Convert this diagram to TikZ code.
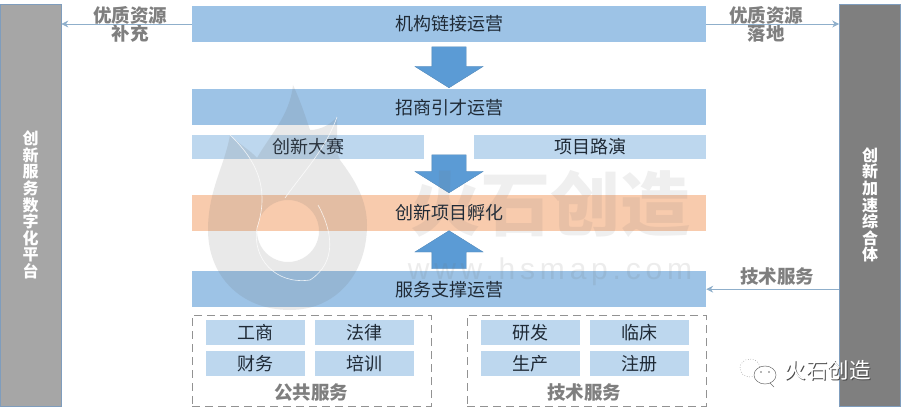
\documentclass[tikz,border=0pt]{standalone}
\usepackage{fontspec}
\usepackage{xcolor}
\usepackage{tikz}
\setmainfont{Noto Sans CJK SC}
\newfontfamily\markfont[LetterSpace=16]{Liberation Sans}
\usetikzlibrary{shapes.arrows, arrows.meta, positioning, calc}
\setlength{\lineskiplimit}{-20pt}
\setlength{\normallineskiplimit}{-20pt}
\definecolor{boxBlue}{HTML}{9DC3E6}
\definecolor{boxLight}{HTML}{BDD7EE}
\definecolor{boxOrange}{HTML}{F8CBAD}
\definecolor{arrowBlue}{HTML}{5B9BD5}
\definecolor{barLeft}{HTML}{A6A6A6}
\definecolor{barRight}{HTML}{7F7F7F}
\definecolor{barEdge}{HTML}{7F9DBD}
\definecolor{textDark}{HTML}{1F2A36}
\definecolor{textGray}{HTML}{7F7F7F}
\definecolor{lineBlue}{HTML}{8FAFCB}
\definecolor{markGray}{HTML}{6E6E6E}

\begin{document}
\begin{tikzpicture}[
    x=1pt, y=-1pt,
    node distance=10pt,
    mainbox/.style={
        fill=boxBlue, minimum width=514pt, minimum height=36pt, inner sep=0pt,
        font=\fontsize{18}{20}\selectfont, text=textDark
    },
    subbox/.style={
        fill=boxLight, minimum width=232pt, minimum height=24pt, inner sep=0pt,
        font=\fontsize{18}{20}\selectfont, text=textDark
    },
    cellbox/.style={
        fill=boxLight, minimum width=99pt, minimum height=25pt, inner sep=0pt,
        font=\fontsize{18}{20}\selectfont, text=textDark
    },
    groupbox/.style={
        draw=textGray!85, dash pattern=on 8pt off 5pt, line width=1pt,
        minimum width=239pt, minimum height=91pt, inner sep=0pt
    },
    sidebar/.style={
        draw=barEdge, line width=.6pt, minimum width=61pt, minimum height=402pt,
        inner sep=0pt, align=center, text=white,
        font=\fontsize{16}{16.6}\selectfont\bfseries
    },
    sidelabel/.style={
        align=center, inner sep=0pt, text=textGray,
        font=\fontsize{18.5}{18}\selectfont\bfseries
    },
    blockarrow/.style={
        single arrow, fill=arrowBlue, draw=arrowBlue!85!black, line width=.3pt,
        single arrow head extend=17pt, single arrow head indent=0pt,
        single arrow tip angle=116, inner xsep=0pt, inner ysep=17pt, anchor=tip
    },
    thinline/.style={draw=lineBlue, line width=.8pt, -{Stealth[length=7pt, width=7pt]}}
]
    \useasboundingbox (0,0) rectangle (901,411);

    \node[sidebar, fill=barLeft] (leftbar) at (30.5,205) {创\\新\\服\\务\\数\\字\\化\\平\\台};
    \node[sidebar, fill=barRight] (rightbar) at (870,205) {创\\新\\加\\速\\综\\合\\体};

    \node[mainbox] (jigou) at (449,24) {机构链接运营};
    \node[mainbox, below=47pt of jigou] (zhaoshang) {招商引才运营};
    \node[subbox, below right=9pt and 0pt of zhaoshang.south west] (dasai) {创新大赛};
    \node[subbox, below left=9pt and 0pt of zhaoshang.south east] (luyan) {项目路演};
    \node[mainbox, fill=boxOrange, below=69pt of zhaoshang] (fuhua) {创新项目孵化};
    \node[mainbox, below=40pt of fuhua] (fuwu) {服务支撑运营};

    \node[blockarrow, rotate=-90, minimum height=41pt] (downa) at (449,88) {};
    \node[blockarrow, rotate=-90, minimum height=38pt] (downb) at (449,193) {};
    \node[blockarrow, rotate=90, minimum height=38pt] (upa) at (449,230.5) {};

    \node[groupbox] (gonggong) at (311.5,360.5) {};
    \node[groupbox] (jishu) at (586.5,360.5) {};

    \node[cellbox] (gongshang) at (255.5,332.5) {工商};
    \node[cellbox, right=10pt of gongshang] (falv) {法律};
    \node[cellbox, below=6pt of gongshang] (caiwu) {财务};
    \node[cellbox, below=6pt of falv] (peixun) {培训};
    \node[cellbox] (yanfa) at (530,332.5) {研发};
    \node[cellbox, right=10pt of yanfa] (linchuang) {临床};
    \node[cellbox, below=6pt of yanfa] (shengchan) {生产};
    \node[cellbox, below=6pt of linchuang] (zhuce) {注册};

    \node[sidelabel] (gonglabel) at (311,392.5) {公共服务};
    \node[sidelabel] (jilabel) at (584,392.5) {技术服务};
    \node[sidelabel] (buchong) at (130,24.5) {优质资源\\补充};
    \node[sidelabel] (luodi) at (766,24.5) {优质资源\\落地};
    \node[sidelabel] (jifuwu) at (777,276.5) {技术服务};

    \draw[thinline] (jigou.west) -- (jigou.west -| leftbar.east);
    \draw[thinline] (jigou.east) -- (jigou.east -| rightbar.west);
    \draw[thinline] (fuwu.east -| rightbar.west) -- (fuwu.east);

    % watermark
    \fill[markGray, opacity=.15, even odd rule]
        (290,310) .. controls (240,310) and (208,275) .. (208,230)
        .. controls (208,190) and (225,165) .. (230,135)
        .. controls (240,145) and (250,150) .. (257,158)
        .. controls (270,135) and (290,115) .. (293,85)
        .. controls (300,100) and (305,115) .. (310,130)
        .. controls (320,130) and (330,125) .. (337,117)
        .. controls (338,135) and (335,150) .. (340,160)
        .. controls (355,180) and (367,200) .. (367,225)
        .. controls (367,275) and (335,310) .. (290,310) -- cycle
        (288,231) circle[radius=31];
    \draw[white, line width=.6pt, opacity=.8]
        (230,135) .. controls (262,165) and (268,195) .. (257,228)
        .. controls (252,258) and (275,285) .. (310,280);
    \draw[white, line width=.6pt, opacity=.8]
        (337,117) .. controls (325,150) and (305,170) .. (285,198)
        (318,205) .. controls (332,230) and (338,262) .. (310,280);
    \node[inner sep=0pt, text=markGray, opacity=.11, font=\fontsize{70}{70}\selectfont\bfseries] (marktext) at (550,204) {火石创造};
    \node[inner sep=0pt, text=markGray, opacity=.13, font=\fontsize{30}{30}\selectfont\markfont] (markurl) at (550,272) {www.hsmap.com};

    % logo
    \draw[markGray, line width=.5pt, dotted] (750,368) ellipse[x radius=10, y radius=9];
    \draw[markGray, line width=.5pt, fill=white] (765,375) ellipse[x radius=11, y radius=9];
    \draw[markGray, line width=.5pt] (770,383) -- (774,387);
    \fill[markGray] (761,372) circle[radius=.8] (769,372) circle[radius=.8];
    \node[inner sep=0pt, text=black!70, font=\fontsize{21.5}{22}\selectfont] (logoshadow) at (828.5,371.5) {火石创造};
    \node[inner sep=0pt, text=white, font=\fontsize{21.5}{22}\selectfont] (logotext) at (827.8,370.8) {火石创造};
\end{tikzpicture}
\end{document}
